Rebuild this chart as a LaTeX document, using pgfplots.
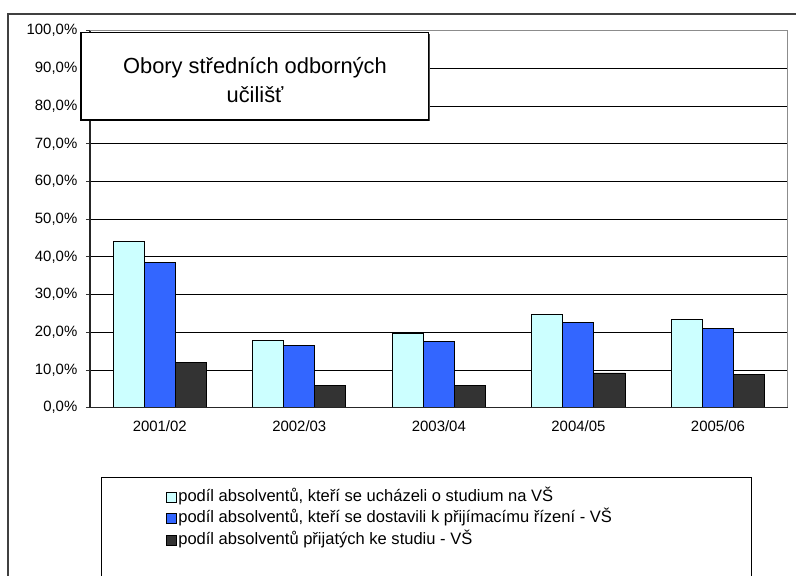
\documentclass[border=0pt]{standalone}
\usepackage{pgfplots}
\pgfplotsset{compat=1.18}
\usepackage{fontspec}
\setmainfont{Liberation Sans}
\definecolor{cLight}{HTML}{CCFFFF}
\definecolor{cBlue}{HTML}{3366FF}
\definecolor{cDark}{HTML}{333333}
\definecolor{frameGray}{HTML}{404040}
\begin{document}
\begin{tikzpicture}
% 1px = 0.75pt ; image 796x575 px
\useasboundingbox (0,0) rectangle (597pt,431.25pt);
\clip (0,0) rectangle (597pt,431.25pt);
% outer frame
\draw[frameGray, line width=1.4pt] (6pt,421pt) rectangle (610pt,-10pt);
\begin{axis}[
  at={(67.5pt,125.5pt)}, anchor=south west,
  scale only axis, width=523.3pt, height=282.75pt,
  xmin=-0.5, xmax=4.5, ymin=0, ymax=100,
  ybar=0pt, bar width=23.3pt,
  xtick={0,1,2,3,4},
  xticklabels={2001/02,2002/03,2003/04,2004/05,2005/06},
  major x tick style={draw=none},
  extra x ticks={-0.5,0.5,1.5,2.5,3.5,4.5},
  extra x tick labels={},
  extra x tick style={major tick length=3pt, tick style={black!80, line width=0.6pt}},
  ytick={0,10,...,100},
  yticklabels={{0,0\%},{10,0\%},{20,0\%},{30,0\%},{40,0\%},{50,0\%},{60,0\%},{70,0\%},{80,0\%},{90,0\%},{100,0\%}},
  xtick pos=bottom, ytick pos=left,
  tick align=outside, major tick length=3pt,
  tick style={black!80, line width=0.6pt},
  ymajorgrids, grid style={black, line width=0.6pt},
  axis line style={gray!90, line width=0.7pt},
  ticklabel style={font=\fontsize{11.2}{13}\selectfont},
  yticklabel style={xshift=-3pt},
  xticklabel style={yshift=-3.5pt},
  legend style={draw=none, fill=none, inner sep=0pt,
    at={(0.109,-0.2157)}, anchor=north west,
    font=\fontsize{12.4}{14}\selectfont,
    nodes={inner sep=0pt, text height=9pt, text depth=3pt, anchor=base west},
    row sep=4.3pt, column sep=1pt},
  legend cell align=left,
  legend image code/.code={\draw[#1, draw=black, line width=0.5pt] (0pt,-0.5pt) rectangle (7.5pt,7pt);},
  clip=false,
]
\addplot[fill=cLight, draw=black, line width=0.7pt] coordinates {(0,44.2) (1,17.9) (2,19.8) (3,24.8) (4,23.3)};
\addplot[fill=cBlue, draw=black, line width=0.7pt] coordinates {(0,38.6) (1,16.4) (2,17.5) (3,22.5) (4,21.1)};
\addplot[fill=cDark, draw=black, line width=0.7pt] coordinates {(0,11.9) (1,5.8) (2,5.8) (3,9.2) (4,8.9)};
\legend{{podíl absolventů, kteří se ucházeli o studium na VŠ},
        {podíl absolventů, kteří se dostavili k přijímacímu řízení - VŠ},
        {podíl absolventů přijatých ke studiu - VŠ}}
\draw[black!85, line width=0.8pt] (rel axis cs:0,0) -- (rel axis cs:0,1);
\draw[black!85, line width=0.8pt] (rel axis cs:0,0) -- (rel axis cs:1,0);
\end{axis}
% legend frame
\draw[black, line width=0.7pt] (76.3pt,73pt) rectangle (563.8pt,-10pt);
% title box
\fill[black!70] (61.75pt,405.7pt) rectangle (322.2pt,340.25pt);
\draw[black, fill=white, line width=0.8pt] (60.75pt,406.7pt) rectangle (321.2pt,341.25pt);
\node[anchor=base, inner sep=0pt, font=\fontsize{16.4}{19}\selectfont] at (191.25pt,376.3pt) {Obory středních odborných};
\node[anchor=base, inner sep=0pt, font=\fontsize{16.4}{19}\selectfont] at (191.25pt,354.5pt) {učilišť};
\end{tikzpicture}
\end{document}
